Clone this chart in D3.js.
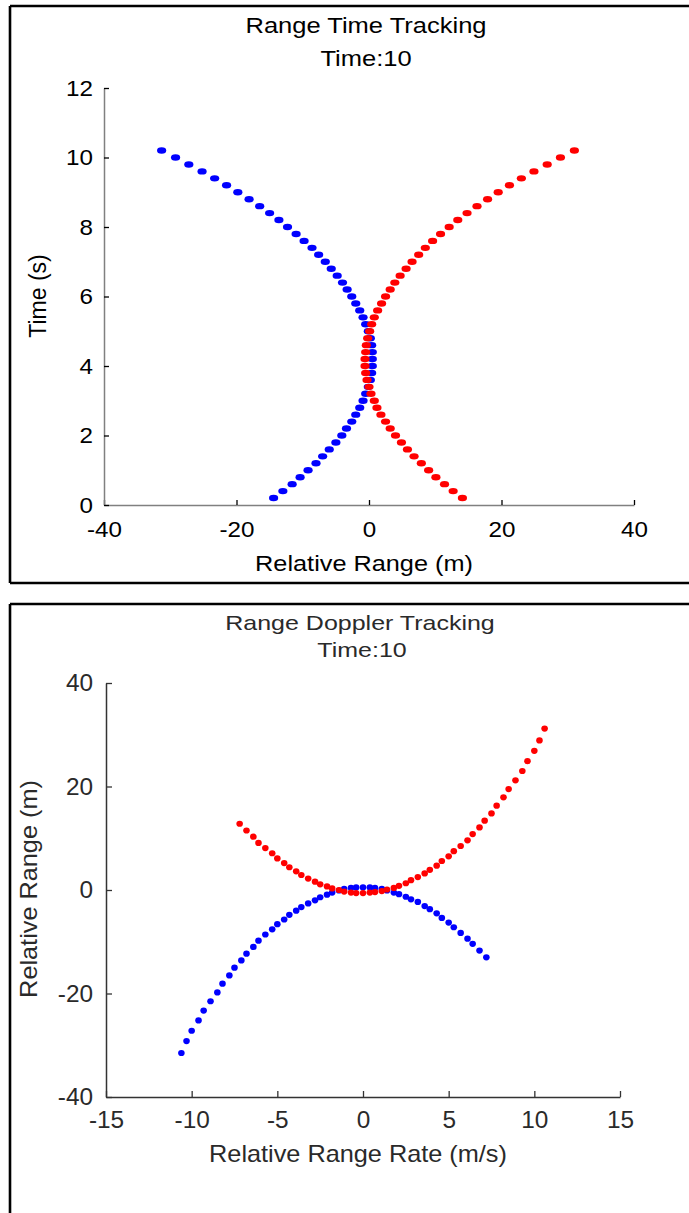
<!DOCTYPE html>
<html><head><meta charset="utf-8">
<script src="https://cdn.jsdelivr.net/npm/d3@7"></script>
<style>html,body{margin:0;padding:0;background:#fff;} svg{display:block;}</style>
</head><body>
<script>
// ---- data ----
const timeS = [0.2,0.4,0.6,0.8,1.0,1.2,1.4,1.6,1.8,2.0,2.2,2.4,2.6,2.8,3.0,3.2,3.4,3.6,3.8,4.0,
  4.2,4.4,4.6,4.8,5.0,5.2,5.4,5.6,5.8,6.0,6.2,6.4,6.6,6.8,7.0,7.2,7.4,7.6,7.8,8.0,
  8.2,8.4,8.6,8.8,9.0,9.2,9.4,9.6,9.8,10.0,10.2];
const blueRange = [-14.4,-13.0,-11.6,-10.4,-9.2,-8.0,-7.0,-6.0,-5.0,-4.1,-3.4,-2.6,-2.0,-1.4,-0.9,-0.5,-0.1,0.2,0.4,0.5,
  0.5,0.5,0.4,0.2,-0.1,-0.5,-0.9,-1.4,-2.0,-2.6,-3.3,-4.0,-4.8,-5.7,-6.6,-7.6,-8.6,-9.8,-11.0,-12.3,
  -13.6,-15.0,-16.5,-18.1,-19.8,-21.5,-23.3,-25.2,-27.2,-29.2,-31.3];
const redRange = [14.1,12.7,11.4,10.1,9.0,7.9,6.8,5.8,4.9,4.0,3.2,2.5,1.8,1.2,0.8,0.3,0.0,-0.3,-0.5,-0.6,
  -0.6,-0.5,-0.4,-0.2,0.1,0.4,0.8,1.3,1.9,2.5,3.2,3.9,4.7,5.6,6.5,7.5,8.5,9.6,10.8,12.1,
  13.4,14.8,16.3,17.9,19.5,21.2,23.0,24.9,26.9,28.9,31.0];
// range values
const dopBlueRange = [-13.0,-11.7,-10.4,-9.4,-8.3,-7.2,-6.3,-5.4,-4.5,-3.7,-3.1,-2.3,-1.8,-1.3,-0.8,-0.5,-0.1,0.2,0.4,0.5,
  0.5,0.5,0.4,0.2,-0.1,-0.5,-0.9,-1.4,-2.0,-2.6,-3.3,-4.0,-4.8,-5.7,-6.6,-7.6,-8.6,-9.8,-11.0,-12.3,
  -13.6,-15.0,-16.5,-18.1,-19.8,-21.5,-23.3,-25.2,-27.2,-29.2,-31.5];
const dopRedRange = [12.8,11.5,10.3,9.1,8.1,7.1,6.1,5.2,4.4,3.6,2.9,2.2,1.6,1.1,0.7,0.3,0.0,-0.3,-0.5,-0.6,
  -0.6,-0.5,-0.4,-0.2,0.1,0.4,0.8,1.3,1.9,2.5,3.2,3.9,4.7,5.6,6.5,7.5,8.5,9.6,10.8,12.1,
  13.4,14.8,16.3,17.9,19.5,21.2,23.0,24.9,26.9,28.9,31.2];
const redRate = [-7.2,-6.8,-6.4,-6.1,-5.7,-5.3,-5.0,-4.6,-4.3,-3.9,-3.6,-3.2,-2.8,-2.5,-2.1,-1.8,-1.4,-1.1,-0.7,-0.4,
  0.0,0.4,0.7,1.1,1.4,1.8,2.1,2.5,2.8,3.2,3.6,3.9,4.3,4.6,5.0,5.3,5.7,6.1,6.4,6.8,
  7.1,7.5,7.8,8.2,8.5,8.9,9.3,9.6,10.0,10.3,10.6];
const blueRate = [7.2,6.8,6.4,6.1,5.7,5.3,5.0,4.6,4.3,3.9,3.6,3.2,2.8,2.5,2.1,1.8,1.4,1.1,0.7,0.4,
  0.0,-0.4,-0.7,-1.1,-1.4,-1.8,-2.1,-2.5,-2.8,-3.2,-3.6,-3.9,-4.3,-4.6,-5.0,-5.3,-5.7,-6.1,-6.4,-6.8,
  -7.1,-7.5,-7.8,-8.2,-8.5,-8.9,-9.3,-9.6,-10.0,-10.3,-10.6];
const topXTicks = [-40,-20,0,20,40];
const topYTicks = [0,2,4,6,8,10,12];
const botXTicks = [-15,-10,-5,0,5,10,15];
const botYTicks = [-40,-20,0,20,40];
const topTitle = "Range Time Tracking", botTitle = "Range Doppler Tracking", subTitle = "Time:10";

// ---- drawing ----
const W = 689, H = 1213;
const FONT = "'Liberation Sans', Arial, Helvetica, sans-serif";
const svg = d3.select("body").append("svg").attr("width", W).attr("height", H);
svg.append("rect").attr("width", W).attr("height", H).attr("fill", "#fff");

function txt(x, y, s, size, sx, anchor, color, rot) {
  const t = svg.append("text").attr("font-family", FONT).attr("font-size", size)
    .attr("fill", color).attr("text-anchor", anchor).text(s);
  t.attr("transform", `translate(${x},${y})` + (rot ? ` rotate(${rot})` : "") + ` scale(${sx},1)`);
  return t;
}
function styleAxis(g, domColor, tickColor, size, sx, color, isY, off) {
  g.attr("font-family", FONT).attr("font-size", size);
  g.select(".domain").attr("stroke", domColor).attr("stroke-width", 1.5);
  g.selectAll(".tick line").attr("stroke", tickColor).attr("stroke-width", 1.3);
  const t = g.selectAll(".tick text").attr("fill", color).attr("font-size", size)
    .attr("transform", `scale(${sx},1)`);
  if (isY) t.attr("x", off / sx).attr("dy", "0.34em");
  else t.attr("y", off).attr("dy", 0);
}

// frames
const frame = svg.append("g").attr("stroke", "#000").attr("stroke-width", 2.6);
frame.append("line").attr("x1", 10).attr("y1", 6).attr("x2", W).attr("y2", 6);
frame.append("line").attr("x1", 10).attr("y1", 6).attr("x2", 10).attr("y2", 583);
frame.append("line").attr("x1", 10).attr("y1", 583).attr("x2", W).attr("y2", 583);
frame.append("line").attr("x1", 10).attr("y1", 604).attr("x2", W).attr("y2", 604);
frame.append("line").attr("x1", 10).attr("y1", 604).attr("x2", 10).attr("y2", H);

// ---- top chart ----
const x1 = d3.scaleLinear().domain([-40, 40]).range([104, 634]);
const y1 = d3.scaleLinear().domain([0, 12]).range([505, 88]);
const gx1 = svg.append("g").attr("transform", "translate(0,505)")
  .call(d3.axisBottom(x1).tickValues(topXTicks).tickSizeInner(-5).tickSizeOuter(0).tickFormat(d => String(d)));
styleAxis(gx1, "#808080", "#000", 22, 1.1, "#000", false, 32);
const gy1 = svg.append("g").attr("transform", "translate(104,0)")
  .call(d3.axisLeft(y1).tickValues(topYTicks).tickSizeInner(-5).tickSizeOuter(0).tickFormat(d => String(d)));
styleAxis(gy1, "#808080", "#000", 22, 1.1, "#000", true, -11);

txt(366, 33, topTitle, 22, 1.16, "middle", "#000");
txt(366, 66, subTitle, 22, 1.16, "middle", "#000");
txt(364, 571, "Relative Range (m)", 22, 1.15, "middle", "#000");
txt(46, 296, "Time (s)", 23, 1.0, "middle", "#000", -90);

const topG = svg.append("g");
topG.selectAll("ellipse.b").data(timeS.map((t, i) => ({ t, r: blueRange[i] }))).join("ellipse")
  .attr("class", "b").attr("cx", d => x1(d.r)).attr("cy", d => y1(d.t)).attr("rx", 4.6).attr("ry", 3.2).attr("fill", "#0000ff");
topG.selectAll("ellipse.r").data(timeS.map((t, i) => ({ t, r: redRange[i] }))).join("ellipse")
  .attr("class", "r").attr("cx", d => x1(d.r)).attr("cy", d => y1(d.t)).attr("rx", 4.6).attr("ry", 3.2).attr("fill", "#ff0000");

// ---- bottom chart ----
const x2 = d3.scaleLinear().domain([-15, 15]).range([106, 620]);
const y2 = d3.scaleLinear().domain([-40, 40]).range([1097, 683]);
const gx2 = svg.append("g").attr("transform", "translate(0,1097)")
  .call(d3.axisBottom(x2).tickValues(botXTicks).tickSizeInner(-6).tickSizeOuter(0).tickFormat(d => String(d)));
styleAxis(gx2, "#333", "#333", 23, 1.06, "#2a2a2a", false, 31);
const gy2 = svg.append("g").attr("transform", "translate(106,0)")
  .call(d3.axisLeft(y2).tickValues(botYTicks).tickSizeInner(-6).tickSizeOuter(0).tickFormat(d => String(d)));
styleAxis(gy2, "#333", "#333", 23, 1.06, "#2a2a2a", true, -13);

txt(360, 630, botTitle, 21, 1.19, "middle", "#2a2a2a");
txt(362, 657, subTitle, 21, 1.19, "middle", "#2a2a2a");
txt(358, 1162, "Relative Range Rate (m/s)", 23, 1.1, "middle", "#2a2a2a");
txt(37, 889, "Relative Range (m)", 23, 1.1, "middle", "#2a2a2a", -90);

const botG = svg.append("g");
botG.selectAll("ellipse.b").data(blueRate.map((v, i) => ({ v, r: dopBlueRange[i] }))).join("ellipse")
  .attr("class", "b").attr("cx", d => x2(d.v)).attr("cy", d => y2(d.r)).attr("rx", 3.3).attr("ry", 3.1).attr("fill", "#0000ff");
botG.selectAll("ellipse.r").data(redRate.map((v, i) => ({ v, r: dopRedRange[i] }))).join("ellipse")
  .attr("class", "r").attr("cx", d => x2(d.v)).attr("cy", d => y2(d.r)).attr("rx", 3.3).attr("ry", 3.1).attr("fill", "#ff0000");
</script>
</body></html>
